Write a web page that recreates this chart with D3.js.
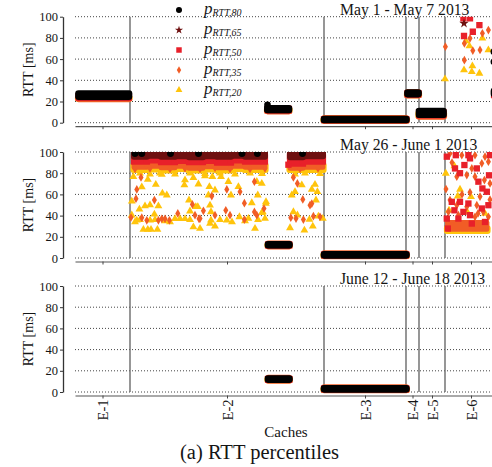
<!DOCTYPE html>
<html>
<head>
<meta charset="utf-8">
<script src="https://cdn.jsdelivr.net/npm/d3@7"></script>
<style>
  body { margin: 0; background: #fff; }
  svg { display: block; }
  svg text { fill: #151515; }
</style>
</head>
<body>
<svg id="chart" width="492" height="467"></svg>
<script>
// ---- data -------------------------------------------------------------
const groups = ["E-1", "E-2", "E-3", "E-4", "E-5", "E-6"];
// server-index boundaries between cache groups
const groupEdges = [0, 27.5, 124.5, 165.5, 172, 185, 211];
const periods = ["May 1 - May 7 2013", "May 26 - June 1 2013", "June 12 - June 18 2013"];
const seriesKeys = ["p80", "p65", "p50", "p35", "p20"];
const seriesSubs = ["RTT,80", "RTT,65", "RTT,50", "RTT,35", "RTT,20"];
const yTicks = [0, 20, 40, 60, 80, 100];

// Runs of neighbouring servers whose percentile stays in a narrow range:
// [panel, firstServer, lastServer, low, high]  (ms)
const p80Runs = [
  [0, 1.75, 27, 24.6, 27.6], [0, 96.25, 96.25, 12.5, 17], [0, 96.25, 107, 12, 13.5],
  [0, 124.5, 165.7, 2.5, 3.5], [0, 166.25, 171.75, 27, 28.5], [0, 172, 184.25, 7.6, 11],
  [0, 209.5, 211, 27, 30],
  [1, 96.5, 107.2, 12, 13], [1, 124.5, 165.7, 2.5, 3.5],
  [2, 96.5, 107.2, 11.7, 12.7], [2, 124.5, 165.7, 2.5, 3.5]
];
const p65Runs = [
  [0, 1.75, 27, 24, 26.5], [0, 96.25, 107, 11.8, 13], [0, 124.5, 165.7, 2.5, 3.3],
  [0, 166.25, 171.75, 26.8, 28.2], [0, 172, 184.25, 7.3, 10.5],
  [1, 29.5, 36, 95.5, 99.5], [1, 36, 43, 96.5, 99.5], [1, 43, 50, 95.5, 99.5],
  [1, 50, 57, 96, 99.5], [1, 57, 64, 95, 99.5], [1, 64, 71, 96, 99.5],
  [1, 71, 78, 95.5, 99.5], [1, 78, 85, 96.5, 99.5], [1, 85, 95, 95.5, 99.5],
  [1, 107.5, 114, 95, 99.5], [1, 114, 124, 96, 99.5],
  [1, 96.5, 107.2, 11.9, 12.9], [1, 124.5, 165.7, 2.5, 3.3],
  [2, 96.5, 107.2, 11.6, 12.6], [2, 124.5, 165.7, 2.5, 3.3]
];
const p50Runs = [
  [0, 1.75, 27, 23.5, 25], [0, 96.25, 107, 11.5, 13], [0, 124.5, 165.7, 2.5, 3.5],
  [0, 166.25, 171.75, 26.5, 28], [0, 172, 184.25, 7, 10], [0, 209.5, 211, 26, 28.5],
  [1, 29.5, 36, 91, 95], [1, 36, 43, 92, 95], [1, 43, 50, 90.5, 95],
  [1, 50, 57, 91.5, 95], [1, 57, 64, 90.5, 95], [1, 64, 71, 91.5, 95],
  [1, 71, 78, 90, 95], [1, 78, 85, 92, 95], [1, 85, 95, 91, 95],
  [1, 107.5, 114, 89, 95], [1, 114, 124, 91, 95],
  [1, 96.5, 107.2, 11.8, 12.8], [1, 124.5, 165.7, 2.5, 3.5],
  [2, 96.5, 107.2, 11.5, 12.5], [2, 124.5, 165.7, 2.5, 3.5]
];
const p35Runs = [
  [0, 1.75, 27, 23, 25], [0, 96.25, 107, 11.5, 13], [0, 124.5, 165.7, 2.5, 3.5],
  [0, 166.25, 171.75, 26.5, 28], [0, 172, 184.25, 6.5, 10], [0, 209.5, 211, 26, 28],
  [1, 29.5, 36, 87, 91.5], [1, 36, 43, 88, 91.5], [1, 43, 50, 86.5, 91.5],
  [1, 50, 57, 88, 91.5], [1, 57, 64, 86, 91.5], [1, 64, 71, 87.5, 91.5],
  [1, 71, 78, 86.5, 91.5], [1, 78, 85, 88, 91.5], [1, 85, 95, 87, 91.5],
  [1, 107.5, 114, 86, 91.5], [1, 114, 124, 87, 91.5],
  [1, 96.5, 107.2, 11.8, 12.8], [1, 124.5, 165.7, 2.5, 3.5], [1, 186.25, 206, 28.5, 32],
  [2, 96.5, 107.2, 11.5, 12.5], [2, 124.5, 165.7, 2.5, 3.5]
];
const p20Runs = [
  [0, 1.75, 27, 22.5, 23.5], [0, 96.25, 107, 11, 12.5], [0, 124.5, 165.7, 2, 3],
  [0, 166.25, 171.75, 26, 27.5], [0, 172, 184.25, 6, 9],
  [1, 29.5, 36, 83, 87.5], [1, 36, 43, 83.5, 87.5], [1, 43, 50, 82.5, 87.5],
  [1, 50, 57, 84, 87.5], [1, 57, 64, 82.5, 87.5], [1, 64, 71, 83.5, 87.5],
  [1, 71, 78, 82.5, 87.5], [1, 78, 85, 84, 87.5], [1, 85, 95, 83, 87.5],
  [1, 107.5, 114, 83, 87.5], [1, 114, 124, 83, 87.5],
  [1, 96.5, 107.2, 11.5, 12.5], [1, 124.5, 165.7, 2, 3], [1, 186.25, 206, 25.5, 28],
  [2, 96.5, 107.2, 11.2, 12.2], [2, 124.5, 165.7, 2, 3]
];

// Individual servers: [panel, server, value]  (ms)
const p80Points = [
  [0, 209.5, 67], [0, 209.5, 57.5],
  [1, 30, 98.5], [1, 33.4, 98.5], [1, 47.75, 98.5], [1, 61.75, 98.5],
  [1, 83.5, 98.5], [1, 91.2, 98.5], [1, 113.75, 98.5]
];
const p65Points = [
  [0, 194.5, 93.7]
];
const p50Points = [
  [0, 194.2, 98.4], [0, 197.5, 98.4], [0, 202.2, 92], [0, 198.9, 85.8], [0, 194.5, 81.8],
  [1, 106.7, 88], [1, 107.5, 96],
  [1, 185.9, 95.6], [1, 190.4, 97], [1, 196.7, 97], [1, 197.5, 94], [1, 194.7, 87.7],
  [1, 190, 84.5], [1, 192.5, 80], [1, 200.9, 84.5], [1, 201.7, 72], [1, 203.7, 65.6],
  [1, 205.9, 62.5], [1, 188.4, 53], [1, 192.5, 53], [1, 196.7, 51.4], [1, 189.7, 45],
  [1, 194.2, 43.5], [1, 197.5, 40.4], [1, 203.4, 46.7], [1, 206.7, 49.8], [1, 185.9, 37.2],
  [1, 191.7, 37.2], [1, 198.4, 32.5], [1, 205, 34], [1, 186.4, 27.8], [1, 207.5, 97],
  [1, 207, 78]
];
const p35Points = [
  [0, 185.2, 71.7], [0, 197.5, 79.6], [0, 194.7, 74.8], [0, 198.9, 68], [0, 202.5, 68.6],
  [0, 203.7, 84.3], [0, 206.7, 87.4], [0, 194.7, 59],
  [1, 33, 76], [1, 30.9, 64.7], [1, 30.5, 56], [1, 39.7, 54.6], [1, 28, 38.2],
  [1, 33.4, 38], [1, 35.9, 35.6], [1, 41.7, 35.6], [1, 43.4, 37], [1, 45, 37],
  [1, 47.2, 35.6], [1, 51.4, 42], [1, 58.7, 50.5], [1, 60, 40.4], [1, 62, 37],
  [1, 68.4, 58.4], [1, 75.9, 64.7], [1, 82.5, 62.5], [1, 89.7, 72], [1, 84.7, 51.7],
  [1, 64.2, 44.5], [1, 62.5, 37.2], [1, 70, 40.4], [1, 75.4, 45], [1, 77.5, 40.4],
  [1, 84.7, 36.3], [1, 89.7, 43.5], [1, 90.9, 40.4], [1, 94.5, 46.7],
  [1, 109.2, 76], [1, 111.2, 70.3], [1, 113.9, 55.2], [1, 117.5, 49.8], [1, 118.4, 51.4],
  [1, 107.9, 38], [1, 110.5, 37.2], [1, 114.2, 36.3], [1, 119.2, 39.4], [1, 122.5, 38.8],
  [1, 30, 84], [1, 37.5, 84.5], [1, 47.5, 84], [1, 55, 84.5], [1, 62.5, 84],
  [1, 70, 85], [1, 77.5, 84], [1, 87.5, 84], [1, 95, 84.5], [1, 112.5, 84], [1, 121.5, 84.5],
  [1, 187.5, 98.7], [1, 193.4, 97], [1, 200, 97], [1, 205, 95.6], [1, 203.4, 89.3],
  [1, 206.7, 90.9], [1, 198.4, 84.5], [1, 195.9, 78.2], [1, 190.9, 76.7], [1, 200, 76.7],
  [1, 204.7, 73.5], [1, 207.5, 70.3], [1, 187.5, 54.6], [1, 190.9, 49.8], [1, 195.9, 48.3],
  [1, 200.9, 49.8], [1, 204.2, 43.5], [1, 186.7, 43.5], [1, 191.7, 40.4], [1, 200, 38.8],
  [1, 206.7, 38.8], [1, 188.5, 90], [1, 197.5, 62], [1, 202.5, 58], [1, 193.5, 60],
  [1, 207.5, 55], [1, 185.5, 65], [1, 201.5, 42]
];
const p20Points = [
  [0, 185, 41.2], [0, 194.5, 49.7], [0, 198.7, 53.5], [0, 198.4, 48.1], [0, 202.2, 46.5],
  [0, 195.5, 77], [0, 197.2, 72.3], [0, 203.7, 79.6], [0, 206.7, 68.6],
  [1, 29.2, 76.7], [1, 36.4, 74], [1, 40.4, 69.4], [1, 43.4, 78.9], [1, 28.4, 53.6],
  [1, 33.4, 67], [1, 43.7, 61], [1, 45.9, 59.3], [1, 41.7, 49], [1, 37.5, 50],
  [1, 35, 49], [1, 32.2, 46], [1, 39.7, 41.3], [1, 28.4, 40.4], [1, 30.9, 35.6],
  [1, 30, 34], [1, 37.5, 35.6], [1, 50, 37], [1, 52.5, 37], [1, 55, 37],
  [1, 34.2, 26.8], [1, 36.4, 26.8], [1, 38, 26.8], [1, 41.2, 26.8], [1, 54.7, 68.8],
  [1, 55, 73.5], [1, 59.2, 75.7], [1, 57, 54.6], [1, 60.4, 48.3], [1, 57.5, 44.2],
  [1, 59.2, 29.3], [1, 61.7, 69.7], [1, 65, 77.3], [1, 68.7, 76.7], [1, 73, 76.7],
  [1, 67.2, 67.2], [1, 70, 64], [1, 66.7, 59.3], [1, 76.7, 72], [1, 81.7, 67.2],
  [1, 78, 59.3], [1, 90.9, 72], [1, 93.4, 70.3], [1, 91.4, 59.3], [1, 95.4, 51.4],
  [1, 88.4, 52], [1, 61.4, 48.3], [1, 67.5, 49.8], [1, 68, 43.5], [1, 68, 35.6],
  [1, 75.9, 35.6], [1, 82.2, 38.8], [1, 86.7, 37.2], [1, 93.4, 42.6], [1, 95, 37.2],
  [1, 62.5, 27.8], [1, 70, 30], [1, 90, 27.8], [1, 67.5, 32.5], [1, 95.5, 53],
  [1, 93.9, 43.5], [1, 32.5, 36], [1, 40, 36], [1, 45, 35], [1, 47.5, 34],
  [1, 57.5, 36], [1, 72.5, 36], [1, 78.5, 34], [1, 85, 35], [1, 91.5, 36],
  [1, 32.5, 80], [1, 37.5, 79], [1, 42.5, 80], [1, 50, 79], [1, 57.5, 80],
  [1, 65, 79.5], [1, 72.5, 80], [1, 80, 79], [1, 87.5, 80], [1, 93.5, 79.5],
  [1, 110, 79], [1, 115, 80], [1, 122.5, 79.5],
  [1, 113.4, 68.8], [1, 120, 69.4], [1, 118.4, 64.7], [1, 121.2, 62.5], [1, 108.4, 59.3],
  [1, 110, 62.5], [1, 120.5, 54.6], [1, 109.2, 43.5], [1, 111.2, 40.4], [1, 117.2, 36.3],
  [1, 121.7, 39.4], [1, 123.9, 37.2], [1, 114.7, 26.2], [1, 118.9, 30], [1, 107.5, 28.4],
  [1, 185.4, 79.8], [1, 189.7, 86.8], [1, 192.5, 64.7], [1, 198, 57.7], [1, 191.4, 58.4],
  [1, 187, 45], [1, 196, 44], [1, 205, 42]
];

// ---- layout & style ------------------------------------------------------
const W = 492;
const panelTop = [16.7, 152, 286];
const panelH = 106;
const plotLeft = 75;
const serif = "Liberation Serif, LiberationSerif, Times New Roman, Times, DejaVu Serif, Noto Serif, FreeSerif, serif";
const color = { p80: "#000000", p65: "#6e1010", p50: "#e8202a", p35: "#f15d26", p20: "#ffc40c" };
const symbolType = { p80: d3.symbolCircle, p65: d3.symbolStar, p50: d3.symbolSquare, p35: d3.symbolDiamond, p20: d3.symbolTriangle };
const symbolSize = { p80: 38, p65: 28, p50: 40, p35: 22, p20: 27 };
// half width / half height of a run bar for each marker shape
const runHalf = { p80: [3.3, 3.3], p65: [3, 3], p50: [3.1, 3.1], p35: [2.4, 4], p20: [3.6, 3] };
const runsBy = { p80: p80Runs, p65: p65Runs, p50: p50Runs, p35: p35Runs, p20: p20Runs };
const pointsBy = { p80: p80Points, p65: p65Points, p50: p50Points, p35: p35Points, p20: p20Points };
const drawOrder = ["p20", "p35", "p50", "p65", "p80"];

const svg = d3.select("#chart").style("font-family", serif);
const x = d3.scaleLinear()
  .domain([groupEdges[0], groupEdges[groupEdges.length - 1]])
  .range([plotLeft, 497]);
const groupMid = groups.map((g, i) => (groupEdges[i] + groupEdges[i + 1]) / 2);

panelTop.forEach((top, p) => {
  const y = d3.scaleLinear().domain([0, 100]).range([top + panelH, top]);
  const g = svg.append("g");

  // dotted horizontal grid
  g.append("g").selectAll("line").data(yTicks).join("line")
    .attr("x1", plotLeft).attr("x2", W)
    .attr("y1", d => y(d)).attr("y2", d => y(d))
    .attr("stroke", "#444").attr("stroke-width", 1)
    .attr("stroke-dasharray", "1,2");

  // group separators
  g.append("g").selectAll("line").data(groupEdges.slice(1, -1)).join("line")
    .attr("x1", d => x(d)).attr("x2", d => x(d))
    .attr("y1", y(0)).attr("y2", y(100))
    .attr("stroke", "#6a6a6a").attr("stroke-width", 1.4);

  // clip marks at the top of the value range
  const clipId = "clip" + p;
  svg.append("clipPath").attr("id", clipId).append("rect")
    .attr("x", plotLeft - 5).attr("y", y(100))
    .attr("width", W).attr("height", y(0) - y(100) + 8);
  const marks = g.append("g").attr("clip-path", `url(#${clipId})`);

  drawOrder.forEach(k => {
    const [hw, hh] = runHalf[k];
    marks.append("g").selectAll("rect")
      .data(runsBy[k].filter(r => r[0] === p)).join("rect")
      .attr("x", r => x(r[1]) - hw)
      .attr("width", r => x(r[2]) - x(r[1]) + 2 * hw)
      .attr("y", r => y(r[4]) - hh)
      .attr("height", r => y(r[3]) - y(r[4]) + 2 * hh)
      .attr("rx", k === "p50" ? 0.6 : Math.min(hw, hh))
      .attr("fill", color[k]);
    const sym = d3.symbol(symbolType[k], symbolSize[k]);
    marks.append("g").selectAll("path")
      .data(pointsBy[k].filter(d => d[0] === p)).join("path")
      .attr("transform", d => `translate(${x(d[1])},${y(d[2])})`)
      .attr("d", sym)
      .attr("fill", color[k]);
  });

  // y axis, offset to the left of the plot
  const ya = g.append("g").attr("transform", "translate(63,0)")
    .call(d3.axisLeft(y).tickValues(yTicks).tickSize(3).tickSizeOuter(0).tickPadding(2));
  ya.attr("font-family", null).attr("font-size", 12.5);
  ya.select(".domain").attr("stroke", "#333").attr("stroke-width", 1.3);
  ya.selectAll(".tick line").attr("stroke", "#333");
  ya.selectAll(".tick text").attr("fill", "#151515");

  // x axis with a tick per cache group
  const xa = g.append("g").attr("transform", `translate(0,${y(0) + 3.5})`)
    .call(d3.axisBottom(x).tickValues(groupMid).tickSize(3).tickSizeOuter(0)
      .tickFormat((d, i) => p === 2 ? groups[i] : ""));
  xa.attr("font-family", null).attr("font-size", 14.5);
  xa.select(".domain").attr("stroke", "#555").attr("stroke-width", 1.2);
  xa.selectAll(".tick line").attr("stroke", "#444");
  if (p === 2) {
    xa.selectAll(".tick text")
      .attr("fill", "#151515")
      .attr("text-anchor", "end")
      .attr("transform", "rotate(-90)")
      .attr("x", -4).attr("y", 0).attr("dy", "0.35em");
  } else {
    xa.selectAll(".tick text").remove();
  }

  // period title
  g.append("text").attr("x", 340).attr("y", y(100) - 2)
    .attr("font-size", 15.7).text(periods[p]);

  // y label
  g.append("text")
    .attr("transform", `translate(33,${(y(0) + y(100)) / 2}) rotate(-90)`)
    .attr("text-anchor", "middle").attr("font-size", 14).text("RTT [ms]");
});

// legend
const legend = svg.append("g");
seriesKeys.forEach((k, i) => {
  const ly = 10 + i * 20;
  legend.append("path")
    .attr("transform", `translate(179,${ly})`)
    .attr("d", d3.symbol(symbolType[k], symbolSize[k] * 0.75))
    .attr("fill", color[k]);
  const t = legend.append("text").attr("x", 204).attr("y", ly + 3.5)
    .attr("font-style", "italic");
  t.append("tspan").attr("font-size", 17).text("p");
  t.append("tspan").attr("font-size", 10).attr("dy", 2.5).text(seriesSubs[i]);
});

// axis title and caption
svg.append("text").attr("x", 286).attr("y", 437).attr("text-anchor", "middle")
  .attr("font-size", 15).text("Caches");
svg.append("text").attr("x", 259.5).attr("y", 459).attr("text-anchor", "middle")
  .attr("font-size", 20.5).text("(a) RTT percentiles");
</script>
</body>
</html>
